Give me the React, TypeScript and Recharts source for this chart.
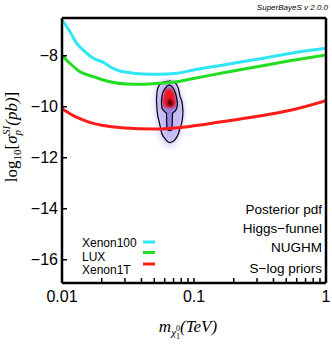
import { ComposedChart, Line, Area, XAxis, YAxis } from 'recharts'

const massTicks = [0.01, 0.02, 0.03, 0.04, 0.05, 0.06, 0.07, 0.08, 0.09, 0.1, 0.2, 0.3, 0.4, 0.5, 0.6, 0.7, 0.8, 0.9, 1]
const labelledMass = [0.01, 0.1, 1]
const sigmaTicks = [-16, -14, -12, -10, -8]

// exclusion limits
const xenon100Mass = [0.01, 0.0115, 0.0129, 0.0145, 0.0173, 0.0206, 0.0231, 0.0275, 0.0309, 0.0413, 0.0552, 0.0739, 0.0988, 0.167, 0.299, 0.533, 1]
const xenon100Sigma = [-6.6, -7.06, -7.51, -7.78, -8.1, -8.26, -8.43, -8.6, -8.65, -8.72, -8.73, -8.69, -8.56, -8.36, -8.14, -7.91, -7.71]

const luxMass = [0.01, 0.0115, 0.0137, 0.0173, 0.0231, 0.0309, 0.0413, 0.0552, 0.0739, 0.0988, 0.167, 0.299, 0.533, 1]
const luxSigma = [-7.98, -8.3, -8.63, -8.82, -9.02, -9.11, -9.12, -9.08, -9.02, -8.89, -8.67, -8.43, -8.2, -7.97]

const xenon1tMass = [0.01, 0.0125, 0.0158, 0.0283, 0.0507, 0.09, 0.162, 0.29, 0.515, 1]
const xenon1tSigma = [-10.08, -10.38, -10.59, -10.82, -10.87, -10.78, -10.59, -10.39, -10.16, -9.76]

// posterior pdf (upper / lower edge of each level)
const haloMass = [0.0505, 0.052, 0.055, 0.06, 0.066, 0.072, 0.078, 0.083, 0.085]
const haloUpper = [-9.9, -9.3, -9.05, -8.95, -8.93, -9.0, -9.35, -9.8, -10.3]
const haloLower = [-9.9, -10.6, -11.2, -11.5, -11.6, -11.5, -11.1, -10.6, -10.3]

const outerMass = [0.052, 0.0527, 0.0546, 0.0569, 0.0603, 0.0658, 0.0718, 0.076, 0.0783, 0.0815, 0.0825]
const outerUpper = [-9.74, -9.35, -9.15, -9.07, -9.02, -8.99, -9.06, -9.27, -9.58, -9.89, -10.21]
const outerLower = [-9.74, -10.21, -10.6, -11.03, -11.25, -11.41, -11.29, -11.07, -10.84, -10.52, -10.21]

const innerMass = [0.0567, 0.0572, 0.0585, 0.0603, 0.0619, 0.0624, 0.065, 0.0681, 0.0687, 0.0718, 0.0739, 0.075]
const innerUpper = [-9.82, -9.58, -9.41, -9.29, -9.22, -9.19, -9.15, -9.21, -9.23, -9.42, -9.66, -9.89]
const innerLower = [-9.82, -10.05, -10.13, -10.2, -10.25, -10.87, -10.94, -10.89, -10.26, -10.17, -10.05, -9.89]

const redMass = [0.0579, 0.0595, 0.0625, 0.066, 0.069, 0.0715, 0.0731]
const redUpper = [-9.8, -9.45, -9.3, -9.28, -9.35, -9.55, -9.85]
const redLower = [-9.8, -9.98, -10.04, -10.05, -10.03, -9.98, -9.85]

const darkMass = [0.063, 0.0647, 0.0675, 0.0693]
const darkUpper = [-9.85, -9.7, -9.74, -9.88]
const darkLower = [-9.85, -9.97, -9.97, -9.88]

const legendNames = ['Xenon100', 'LUX', 'Xenon1T']
const legendColors = ['#2fe6f6', '#22dd22', '#ff1a1a']
const notes = ['Posterior pdf', 'Higgs\u2212funnel', 'NUGHM', 'S\u2212log priors']

const toLine = (mass: number[], sigma: number[]) => mass.map((m, i) => ({ m, s: sigma[i] }))
const toBand = (mass: number[], up: number[], low: number[]) => mass.map((m, i) => ({ m, r: [low[i], up[i]] }))

const xenon100 = toLine(xenon100Mass, xenon100Sigma)
const lux = toLine(luxMass, luxSigma)
const xenon1t = toLine(xenon1tMass, xenon1tSigma)
const halo = toBand(haloMass, haloUpper, haloLower)
const outer = toBand(outerMass, outerUpper, outerLower)
const inner = toBand(innerMass, innerUpper, innerLower)
const red = toBand(redMass, redUpper, redLower)
const dark = toBand(darkMass, darkUpper, darkLower)

const SANS = '"Liberation Sans", Arial, sans-serif'
const SERIF = '"Liberation Serif", "Times New Roman", serif'

const fmtMass = (v: number) => (labelledMass.includes(v) ? String(v) : '')
const fmtSigma = (v: number) => String(v).replace('-', '\u2212')

const frame = { stroke: '#000', strokeWidth: 2.5 }
const tickMark = { stroke: '#000', strokeWidth: 1.5 }

export default function App() {
    return (
        <div style={{ position: 'relative', width: 332, height: 347, background: '#fff' }}>
            <style>{'body{margin:0}'}</style>
            <ComposedChart width={332} height={347} margin={{ top: 17, right: 5, bottom: 0, left: 0 }}>
                <defs>
                    <filter id="blur3" x="-50%" y="-50%" width="200%" height="200%">
                        <feGaussianBlur stdDeviation="3" />
                    </filter>
                    <filter id="blur2" x="-50%" y="-50%" width="200%" height="200%">
                        <feGaussianBlur stdDeviation="2" />
                    </filter>
                    <filter id="blur1" x="-50%" y="-50%" width="200%" height="200%">
                        <feGaussianBlur stdDeviation="1.3" />
                    </filter>
                </defs>
                <XAxis
                    dataKey="m"
                    type="number"
                    scale="log"
                    domain={[0.01, 1]}
                    allowDataOverflow
                    ticks={massTicks}
                    interval={0}
                    tickFormatter={fmtMass}
                    height={64}
                    tickSize={-5}
                    tickMargin={13}
                    axisLine={frame}
                    tickLine={tickMark}
                    tick={{ fill: '#000', fontSize: 16, fontFamily: SANS }}
                />
                <XAxis
                    xAxisId="top"
                    orientation="top"
                    dataKey="m"
                    type="number"
                    scale="log"
                    domain={[0.01, 1]}
                    allowDataOverflow
                    ticks={massTicks}
                    interval={0}
                    height={1}
                    tickSize={-5}
                    tick={false}
                    axisLine={frame}
                    tickLine={tickMark}
                />
                <YAxis
                    type="number"
                    domain={[-16.91, -6.52]}
                    allowDataOverflow
                    ticks={sigmaTicks}
                    interval={0}
                    tickFormatter={fmtSigma}
                    width={62}
                    tickSize={-5}
                    tickMargin={9}
                    axisLine={frame}
                    tickLine={tickMark}
                    tick={{ fill: '#000', fontSize: 16, fontFamily: SANS }}
                />
                <YAxis
                    yAxisId="right"
                    orientation="right"
                    type="number"
                    domain={[-16.91, -6.52]}
                    allowDataOverflow
                    ticks={sigmaTicks}
                    interval={0}
                    width={1}
                    tickSize={-5}
                    tick={false}
                    axisLine={frame}
                    tickLine={tickMark}
                />

                <Area data={halo} dataKey="r" type="monotone" fill="#e2dbfc" fillOpacity={1} stroke="none" filter="url(#blur3)" isAnimationActive={false} />
                <Area data={outer} dataKey="r" type="monotone" fill="#c6baf5" fillOpacity={1} stroke="none" filter="url(#blur2)" isAnimationActive={false} />
                <Area data={inner} dataKey="r" type="monotone" fill="#9783e8" fillOpacity={1} stroke="none" filter="url(#blur1)" isAnimationActive={false} />
                <Area data={red} dataKey="r" type="monotone" fill="#ec1420" fillOpacity={1} stroke="none" filter="url(#blur1)" isAnimationActive={false} />
                <Area data={dark} dataKey="r" type="monotone" fill="#4a0006" fillOpacity={1} stroke="none" filter="url(#blur1)" isAnimationActive={false} />
                <Area data={outer} dataKey="r" type="monotone" fill="none" stroke="#000" strokeWidth={1.2} isAnimationActive={false} />
                <Area data={inner} dataKey="r" type="monotone" fill="none" stroke="#000" strokeWidth={1.2} isAnimationActive={false} />

                <Line data={xenon100} xAxisId="top" yAxisId="right" dataKey="s" type="monotone" stroke={legendColors[0]} strokeWidth={3} dot={false} isAnimationActive={false} />
                <Line data={lux} dataKey="s" type="monotone" stroke={legendColors[1]} strokeWidth={3} dot={false} isAnimationActive={false} />
                <Line data={xenon1t} dataKey="s" type="monotone" stroke={legendColors[2]} strokeWidth={3} dot={false} isAnimationActive={false} />
            </ComposedChart>

            <svg width={332} height={347} style={{ position: 'absolute', left: 0, top: 0, pointerEvents: 'none' }}>
                <text x={328} y={10} textAnchor="end" fontFamily={SANS} fontSize={8} fontStyle="italic">SuperBayeS v 2.0.0</text>

                {legendNames.map((n, i) => (
                    <g key={n}>
                        <text x={82} y={[247, 260.5, 273.5][i]} fontFamily={SANS} fontSize={12}>{n}</text>
                        <line x1={143} x2={155} y1={[242, 252.5, 264][i]} y2={[242, 252.5, 264][i]} stroke={legendColors[i]} strokeWidth={3} />
                    </g>
                ))}

                {notes.map((n, i) => (
                    <text key={n} x={322} y={[214, 233, 251.5, 272.5][i]} textAnchor="end" fontFamily={SANS} fontSize={13.5}>{n}</text>
                ))}

                <text x={16.5} y={137} transform="rotate(-90 16.5 137)" textAnchor="middle" fontFamily={SERIF} fontSize={17}>
                    log<tspan fontSize={11} dy={4}>10</tspan>
                    <tspan dy={-4}>[</tspan>
                    <tspan fontStyle="italic">σ</tspan>
                    <tspan fontSize={11} fontStyle="italic" dy={4}>p</tspan>
                    <tspan fontSize={11} fontStyle="italic" dx={-5} dy={-11}>SI</tspan>
                    <tspan fontStyle="italic" dy={7}>(pb)</tspan>
                    <tspan>]</tspan>
                </text>

                <text x={188} y={332} textAnchor="middle" fontFamily={SERIF} fontSize={17}>
                    <tspan fontStyle="italic">m</tspan>
                    <tspan fontSize={11} fontStyle="italic" dy={4}>χ</tspan>
                    <tspan fontSize={8} dy={3}>1</tspan>
                    <tspan fontSize={8} dx={-4} dy={-8}>0</tspan>
                    <tspan fontStyle="italic" dy={1}>(TeV)</tspan>
                </text>
            </svg>
        </div>
    )
}
